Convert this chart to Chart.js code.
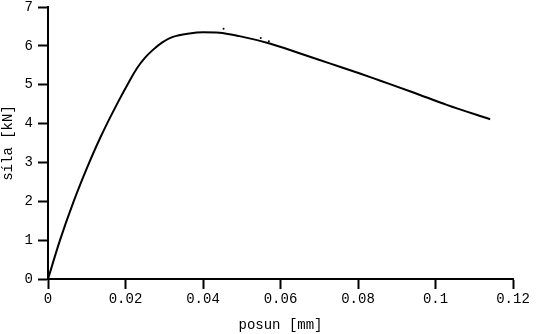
<!DOCTYPE html>
<html>
<head>
<meta charset="utf-8">
<script src="https://cdn.jsdelivr.net/npm/chart.js@4/dist/chart.umd.min.js"></script>
<style>
  html, body { margin: 0; padding: 0; background: #fff; }
  #wrap { width: 536px; height: 334px; position: relative; }
</style>
</head>
<body>
<div id="wrap"><canvas id="graf"></canvas></div>
<script>
// zatezovaci krivka: posun [mm] vs. sila [kN]
var posun = [0, 0.0031, 0.0066, 0.0102, 0.0136, 0.0179, 0.0210, 0.0230, 0.0250, 0.0270,
    0.0295, 0.0322, 0.0365, 0.0400, 0.0442, 0.0494, 0.0572, 0.0649, 0.0727, 0.0805,
    0.0856, 0.0943, 0.1029, 0.1141];
var sila = [0, 1.00, 1.99, 2.89, 3.66, 4.52, 5.09, 5.43, 5.69, 5.89,
    6.09, 6.23, 6.32, 6.35, 6.34, 6.25, 6.06, 5.81, 5.55, 5.29,
    5.11, 4.80, 4.48, 4.11];

// par odskocenych bodu z mereni
var sumX = [0.0453, 0.0549, 0.0570];
var sumY = [6.44, 6.20, 6.12];

var xTicks = [0, 0.02, 0.04, 0.06, 0.08, 0.1, 0.12];
var yTicks = [0, 1, 2, 3, 4, 5, 6, 7];

var pismo = { family: "'Liberation Mono', 'DejaVu Sans Mono', monospace", size: 14 };

var body = [];
for (let i = 0; i < posun.length; i++) {
    body.push({ x: posun[i], y: sila[i] });
}
var sum = [];
for (let i = 0; i < sumX.length; i++) {
    sum.push({ x: sumX[i], y: sumY[i] });
}

function osa(ticks) {
    return {
        type: 'linear',
        min: ticks[0],
        max: ticks[ticks.length - 1],
        afterBuildTicks: function (scale) {
            scale.ticks = ticks.map(function (v) { return { value: v }; });
        },
        grid: {
            drawOnChartArea: false,
            drawTicks: true,
            tickLength: 10,
            tickWidth: 2,
            tickColor: '#000'
        },
        border: { display: true, color: '#000', width: 2 },
        ticks: {
            color: '#000',
            font: pismo,
            callback: function (v) { return String(parseFloat(v.toFixed(2))); }
        }
    };
}

var sx = osa(xTicks);
sx.position = 'bottom';
sx.ticks.padding = 2;
sx.ticks.maxRotation = 0;
sx.title = { display: true, text: 'posun [mm]', color: '#000', font: pismo, padding: { top: 4, bottom: 0 } };
sx.afterFit = function (scale) { scale.height = 55; };

var sy = osa(yTicks);
sy.position = 'left';
sy.ticks.padding = 5;
sy.title = { display: true, text: 'síla [kN]', color: '#000', font: pismo, padding: { top: 0, bottom: 0 } };
sy.afterFit = function (scale) {
    scale.width = 48;
    // horni okraj jen 7 px, popisek "7" muze presahovat
    scale.paddingTop = 7;
    scale.paddingBottom = 0;
};

new Chart(document.getElementById('graf'), {
    type: 'scatter',
    data: {
        datasets: [{
            data: body,
            showLine: true,
            borderColor: '#000',
            borderWidth: 2,
            pointRadius: 0,
            cubicInterpolationMode: 'monotone'
        }, {
            data: sum,
            showLine: false,
            pointRadius: 1,
            pointBackgroundColor: '#000',
            pointBorderWidth: 0
        }]
    },
    options: {
        responsive: true,
        maintainAspectRatio: false,
        animation: false,
        layout: { padding: { top: 0, right: 23, left: 0, bottom: 0 } },
        plugins: { legend: { display: false }, tooltip: { enabled: false } },
        scales: { x: sx, y: sy }
    }
});
</script>
</body>
</html>
